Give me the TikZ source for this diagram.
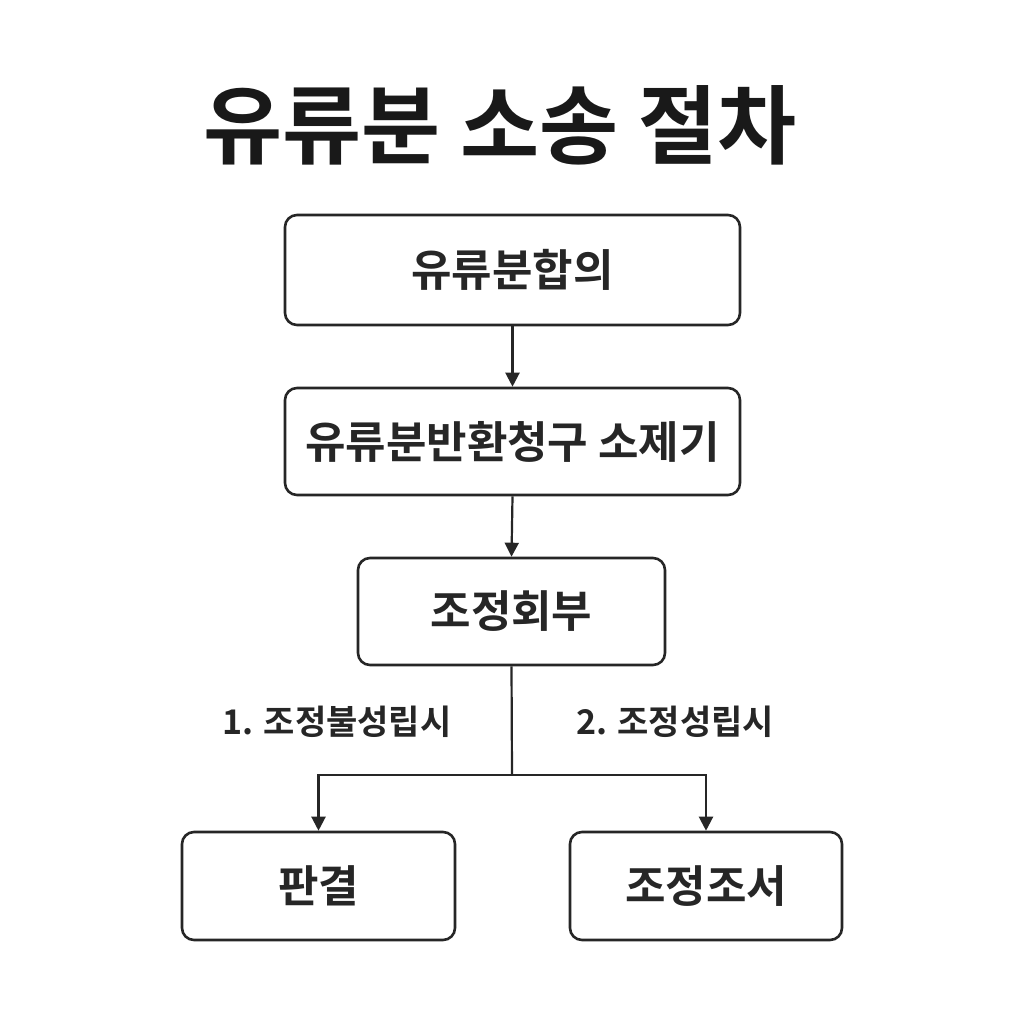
\documentclass[tikz,border=0pt]{standalone}
\usepackage{fontspec}
\newfontfamily\kr{Noto Sans CJK KR}
\newfontfamily\krb{Noto Sans CJK KR Bold}
\usetikzlibrary{arrows.meta}
\begin{document}
\begin{tikzpicture}[x=1pt,y=-1pt,
  box/.style={draw=black!85,line width=2.6pt,rounded corners=12pt,font=\krb\fontsize{44}{50}\selectfont,text=black!85},
  conn/.style={line width=2.2pt,draw=black!85,-{Triangle[length=14pt,width=14pt]}},
  lbl/.style={font=\krb\fontsize{34}{40}\selectfont,text=black!85}]
\useasboundingbox (0,0) rectangle (1024,1024);
\node[font=\krb\fontsize{86}{96}\selectfont,text=black!90] (title) at (500,125) {유류분 소송 절차};
\node[box,minimum width=455pt,minimum height=110pt] (b1) at (512.5,270) {유류분합의};
\node[box,minimum width=455pt,minimum height=107pt] (b2) at (512.5,441.5) {유류분반환청구 소제기};
\node[box,minimum width=307pt,minimum height=107pt] (b3) at (511.5,611.5) {조정회부};
\node[box,minimum width=273pt,minimum height=108pt] (b4) at (318.5,886) {판결};
\node[box,minimum width=272pt,minimum height=108pt] (b5) at (706,886) {조정조서};
\coordinate (j) at (512,775);
\draw[conn] (b1.south) -- (b2.north);
\draw[conn] (b2.south) -- (b3.north);
\draw[line width=2.2pt,draw=black!85] (b3.south) -- (j);
\draw[conn] (j) -| (b4.north);
\draw[conn] (j) -| (b5.north);
\node[lbl] (l1) at (337,722) {1. 조정불성립시};
\node[lbl] (l2) at (675,722) {2. 조정성립시};
\end{tikzpicture}
\end{document}
